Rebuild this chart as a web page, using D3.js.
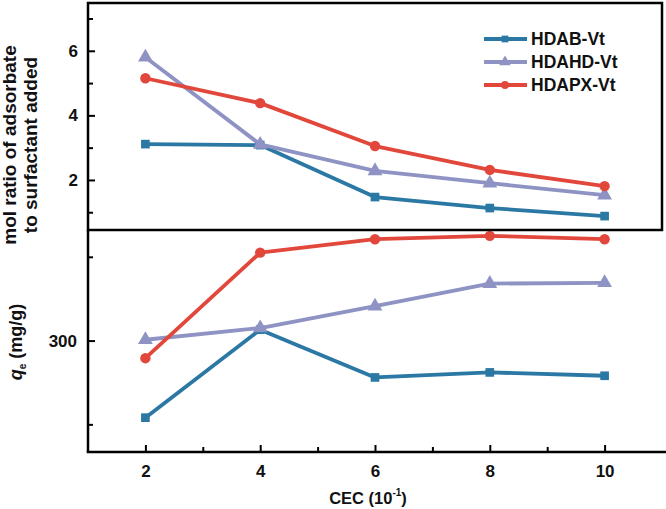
<!DOCTYPE html>
<html><head><meta charset="utf-8">
<script src="https://cdn.jsdelivr.net/npm/d3@7"></script>
<style>body{margin:0;background:#fff}svg{display:block}</style>
</head><body>
<svg id="c" width="666" height="509"></svg>
<script>
const cec = [2, 4, 6, 8, 10];
const seriesNames = ["HDAB-Vt", "HDAHD-Vt", "HDAPX-Vt"];
const ratioHDAB  = [3.11, 3.08, 1.47, 1.13, 0.88];
const ratioHDAHD = [5.80, 3.10, 2.28, 1.90, 1.53];
const ratioHDAPX = [5.15, 4.38, 3.05, 2.31, 1.81];
const qeHDAB  = [208, 313, 256, 262, 258];
const qeHDAHD = [301, 315, 341, 368, 369];
const qeHDAPX = [279, 405, 421, 425, 421];
const xTicks = [2, 4, 6, 8, 10];
const xMinor = [3, 5, 7, 9];
const topTicks = [2, 4, 6];
const topMinor = [1, 3, 5, 7];
const botTicks = [300];
const botMinor = [200, 400];

const colors = ["#2a78a3", "#8e93c4", "#e2473b"];
const shapes = [d3.symbolSquare, d3.symbolTriangle, d3.symbolCircle];
const symSize = [75, 95, 85];

const svg = d3.select("#c");
const L = 88, R = 662, T = 3, M = 230, B = 452;
const font = "'Liberation Sans',Arial,sans-serif";

const x = d3.scaleLinear().domain([1, 11]).range([L, R]);
const yTop = d3.scaleLinear().domain([0.45, 7.48]).range([M, T]);
const yBot = d3.scaleLinear().domain([167, 432]).range([B, M]);

const line = (ys) => d3.line().x((d, i) => x(cec[i])).y(d => ys(d));

function drawSeries(data, ys) {
  data.forEach((arr, k) => {
    svg.append("path").attr("d", line(ys)(arr)).attr("fill", "none")
      .attr("stroke", colors[k]).attr("stroke-width", 3.8).attr("stroke-linejoin", "round");
    svg.selectAll(null).data(arr).enter().append("path")
      .attr("d", d3.symbol().type(shapes[k]).size(symSize[k]))
      .attr("transform", (d, i) => `translate(${x(cec[i])},${ys(d)})`)
      .attr("fill", colors[k]);
  });
}
drawSeries([ratioHDAB, ratioHDAHD, ratioHDAPX], yTop);
drawSeries([qeHDAB, qeHDAHD, qeHDAPX], yBot);

// axes
const axStroke = 2.5;
const gTop = svg.append("g").attr("transform", `translate(${L},0)`)
  .call(d3.axisLeft(yTop).tickValues(topTicks).tickSize(-7).tickPadding(10).tickFormat(d3.format("d")));
const gTopMinor = svg.append("g").attr("transform", `translate(${L},0)`)
  .call(d3.axisLeft(yTop).tickValues(topMinor).tickSize(-5).tickFormat(""));
const gBot = svg.append("g").attr("transform", `translate(${L},0)`)
  .call(d3.axisLeft(yBot).tickValues(botTicks).tickSize(-7).tickPadding(11).tickFormat(d3.format("d")));
const gBotMinor = svg.append("g").attr("transform", `translate(${L},0)`)
  .call(d3.axisLeft(yBot).tickValues(botMinor).tickSize(-5).tickFormat(""));
const gX = svg.append("g").attr("transform", `translate(0,${B})`)
  .call(d3.axisBottom(x).tickValues(xTicks).tickSize(-7).tickPadding(13).tickFormat(d3.format("d")));
const gXMinor = svg.append("g").attr("transform", `translate(0,${B})`)
  .call(d3.axisBottom(x).tickValues(xMinor).tickSize(-5).tickFormat(""));

[gTop, gTopMinor, gBot, gBotMinor, gX, gXMinor].forEach(g => {
  g.select(".domain").remove();
  g.selectAll("line").attr("stroke", "#000").attr("stroke-width", 2);
  g.selectAll("text").attr("font-family", font).attr("font-weight", "bold")
    .attr("font-size", 17).attr("fill", "#111");
});

// frames
svg.append("rect").attr("x", L).attr("y", T).attr("width", R - L).attr("height", M - T)
  .attr("fill", "none").attr("stroke", "#000").attr("stroke-width", axStroke);
svg.append("line").attr("x1", L).attr("x2", L).attr("y1", M).attr("y2", B)
  .attr("stroke", "#000").attr("stroke-width", axStroke);
svg.append("line").attr("x1", L - 1.25).attr("x2", 666).attr("y1", B).attr("y2", B)
  .attr("stroke", "#000").attr("stroke-width", axStroke);

// legend
const lg = svg.append("g");
seriesNames.forEach((n, k) => {
  const yy = 39 + k * 23;
  lg.append("line").attr("x1", 484).attr("x2", 527).attr("y1", yy).attr("y2", yy)
    .attr("stroke", colors[k]).attr("stroke-width", 3.8);
  lg.append("path").attr("d", d3.symbol().type(shapes[k]).size(symSize[k] * 0.6))
    .attr("transform", `translate(505,${yy})`).attr("fill", colors[k]);
  lg.append("text").attr("x", 531).attr("y", yy).attr("dy", "0.36em")
    .attr("font-family", font).attr("font-weight", "bold")
    .attr("font-size", 17.5).attr("fill", "#111").text(n);
});

// axis titles
const t1 = svg.append("text").attr("transform", "translate(16,145) rotate(-90)")
  .attr("text-anchor", "middle").attr("font-family", font).attr("font-weight", "bold")
  .attr("font-size", 19).attr("fill", "#111");
t1.append("tspan").attr("x", 0).attr("dy", 0).text("mol ratio of adsorbate");
t1.append("tspan").attr("x", 0).attr("dy", 21).text("to surfactant added");

const t2 = svg.append("text").attr("transform", "translate(22,342) rotate(-90)")
  .attr("text-anchor", "middle").attr("font-family", font).attr("font-weight", "bold")
  .attr("font-size", 18).attr("fill", "#111");
t2.append("tspan").attr("font-style", "italic").text("q");
t2.append("tspan").attr("font-size", 10).attr("dy", 4).text("e");
t2.append("tspan").attr("dy", -4).text(" (mg/g)");

const t3 = svg.append("text").attr("x", 368).attr("y", 504)
  .attr("text-anchor", "middle").attr("font-family", font).attr("font-weight", "bold")
  .attr("font-size", 16.5).attr("fill", "#111");
t3.append("tspan").text("CEC (10");
t3.append("tspan").attr("font-size", 10).attr("dy", -8).text("-1");
t3.append("tspan").attr("dy", 8).text(")");
</script>
</body></html>
